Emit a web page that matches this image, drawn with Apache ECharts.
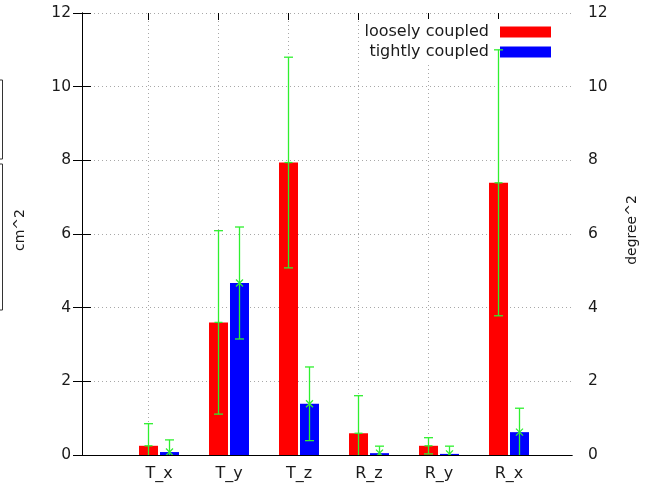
<!DOCTYPE html>
<html>
<head>
<meta charset="utf-8">
<script src="https://cdn.jsdelivr.net/npm/echarts@6/dist/echarts.min.js"></script>
<style>
html,body{margin:0;padding:0;background:#fff;}
#chart{width:662px;height:487px;}
</style>
</head>
<body>
<div id="chart"></div>
<script>
const categories = ['T_x', 'T_y', 'T_z', 'R_z', 'R_y', 'R_x'];
const seriesNames = ['loosely coupled', 'tightly coupled'];
const looselyValues = [0.25, 3.60, 7.94, 0.59, 0.25, 7.39];
const looselyErrors = [0.60, 2.49, 2.86, 1.02, 0.22, 3.61];
const tightlyValues = [0.08, 4.67, 1.39, 0.05, 0.03, 0.62];
const tightlyErrors = [0.33, 1.52, 1.00, 0.19, 0.21, 0.65];
const yMin = 0, yMax = 12, yStep = 2;
const leftAxisName = 'cm^2';
const rightAxisName = 'degree^2';

const FONT = 'DejaVu Sans';
const TXT = '#1a1a1a';
const GREEN = '#2ff02f';
const GRIDC = '#a8a8a8';
const BAR_W = 19;
const HALF_OFF = 10.5;

function errorRenderer(side, marker) {
  return function (params, api) {
    const idx = api.value(0), v = api.value(1), e = api.value(2);
    const c = api.coord([idx, v]);
    const x = c[0] + side * HALF_OFF;
    const y = c[1];
    const yTop = api.coord([idx, v + e])[1];
    const yBot = api.coord([idx, v - e])[1];
    const cap = 4.5;
    const st = { stroke: GREEN, lineWidth: 1.3 };
    const ch = [
      { type: 'line', shape: { x1: x, y1: yTop, x2: x, y2: yBot }, style: st },
      { type: 'line', shape: { x1: x - cap, y1: yTop, x2: x + cap, y2: yTop }, style: st },
      { type: 'line', shape: { x1: x - cap, y1: yBot, x2: x + cap, y2: yBot }, style: st }
    ];
    if (marker === 'plus') {
      ch.push({ type: 'line', shape: { x1: x - 4, y1: y, x2: x + 4, y2: y }, style: st });
    } else {
      ch.push({ type: 'line', shape: { x1: x - 3.5, y1: y - 3.5, x2: x + 3.5, y2: y + 3.5 }, style: st });
      ch.push({ type: 'line', shape: { x1: x - 3.5, y1: y + 3.5, x2: x + 3.5, y2: y - 3.5 }, style: st });
    }
    return { type: 'group', children: ch };
  };
}

const chart = echarts.init(document.getElementById('chart'), null, { renderer: 'canvas' });
const axisLineStyle = { show: true, lineStyle: { color: '#000', width: 1 } };
const dotted = { show: true, lineStyle: { color: GRIDC, width: 1, type: [1, 3] } };

const option = {
  animation: false,
  backgroundColor: '#fff',
  textStyle: { fontFamily: FONT },
  grid: [
    { left: 82, right: 90, top: 13, bottom: 32 },
    { left: 124, right: 118, top: 13, bottom: 32 },
    { left: 148, right: 164, top: 13, bottom: 32 }
  ],
  xAxis: [
    { gridIndex: 0, type: 'value', min: 0, max: 1, position: 'bottom',
      axisLine: axisLineStyle, axisTick: { show: false }, axisLabel: { show: false }, splitLine: { show: false } },
    { gridIndex: 0, type: 'value', min: 0, max: 1, position: 'top',
      axisLine: axisLineStyle, axisTick: { show: false }, axisLabel: { show: false }, splitLine: { show: false } },
    { gridIndex: 1, type: 'category', data: categories, position: 'bottom',
      axisLine: { show: false }, axisTick: { show: false },
      axisLabel: { color: TXT, fontSize: 16, fontFamily: FONT, margin: 11 }, splitLine: { show: false } },
    { gridIndex: 2, type: 'category', data: categories, boundaryGap: false, position: 'bottom',
      axisLine: { show: false }, axisTick: { show: true, inside: true, length: 7, lineStyle: { color: '#000' } },
      axisLabel: { show: false }, splitLine: dotted },
    { gridIndex: 2, type: 'category', data: categories, boundaryGap: false, position: 'top',
      axisLine: { show: false }, axisTick: { show: true, inside: true, length: 7, lineStyle: { color: '#000' } },
      axisLabel: { show: false }, splitLine: { show: false } }
  ],
  yAxis: [
    { gridIndex: 0, type: 'value', min: yMin, max: yMax, interval: yStep, position: 'left',
      name: leftAxisName, nameLocation: 'middle', nameGap: 55, nameRotate: 90,
      nameTextStyle: { color: TXT, fontSize: 14, fontFamily: FONT, padding: [0, 0, 0, 8] },
      axisLine: axisLineStyle, axisTick: { show: true, inside: true, length: 9, lineStyle: { color: '#000' } },
      axisLabel: { color: TXT, fontSize: 15.5, fontFamily: FONT, margin: 11 }, splitLine: dotted },
    { gridIndex: 0, type: 'value', min: yMin, max: yMax, interval: yStep, position: 'right',
      name: rightAxisName, nameLocation: 'middle', nameGap: 53, nameRotate: 90,
      nameTextStyle: { color: TXT, fontSize: 14, fontFamily: FONT, padding: [0, 0, 0, 8] },
      axisLine: axisLineStyle, axisTick: { show: true, inside: true, length: 9, lineStyle: { color: '#000' } },
      axisLabel: { color: TXT, fontSize: 15.5, fontFamily: FONT, margin: 16 }, splitLine: { show: false } },
    { gridIndex: 1, type: 'value', min: yMin, max: yMax, show: false },
    { gridIndex: 2, type: 'value', min: yMin, max: yMax, show: false }
  ],
  legend: {
    data: seriesNames,
    orient: 'vertical',
    align: 'right',
    right: 106,
    top: 19,
    itemWidth: 51,
    itemHeight: 11,
    itemGap: 4,
    icon: 'rect',
    backgroundColor: '#fff',
    padding: 5,
    z: 4,
    textStyle: { color: TXT, fontSize: 16, fontFamily: FONT, lineHeight: 16, padding: [0, 6, 0, 0] }
  },
  graphic: [
    { type: 'rect', shape: { x: -10, y: 80, width: 12.5, height: 79 }, style: { fill: 'none', stroke: '#333', lineWidth: 1 } },
    { type: 'rect', shape: { x: -10, y: 164, width: 12.5, height: 146 }, style: { fill: 'none', stroke: '#333', lineWidth: 1 } }
  ],
  series: [
    { name: seriesNames[0], type: 'bar', xAxisIndex: 2, yAxisIndex: 2, data: looselyValues,
      barWidth: BAR_W, barGap: '10.5%', itemStyle: { color: '#ff0000' }, z: 2 },
    { name: seriesNames[1], type: 'bar', xAxisIndex: 2, yAxisIndex: 2, data: tightlyValues,
      barWidth: BAR_W, barGap: '10.5%', itemStyle: { color: '#0000ff' }, z: 2 },
    { type: 'custom', xAxisIndex: 2, yAxisIndex: 2, clip: true, z: 10,
      encode: { x: 0, y: 1 },
      renderItem: errorRenderer(-1, 'plus'),
      data: categories.map((c, i) => [i, looselyValues[i], looselyErrors[i]]) },
    { type: 'custom', xAxisIndex: 2, yAxisIndex: 2, clip: true, z: 10,
      encode: { x: 0, y: 1 },
      renderItem: errorRenderer(1, 'cross'),
      data: categories.map((c, i) => [i, tightlyValues[i], tightlyErrors[i]]) }
  ]
};
chart.setOption(option);
</script>
</body>
</html>
